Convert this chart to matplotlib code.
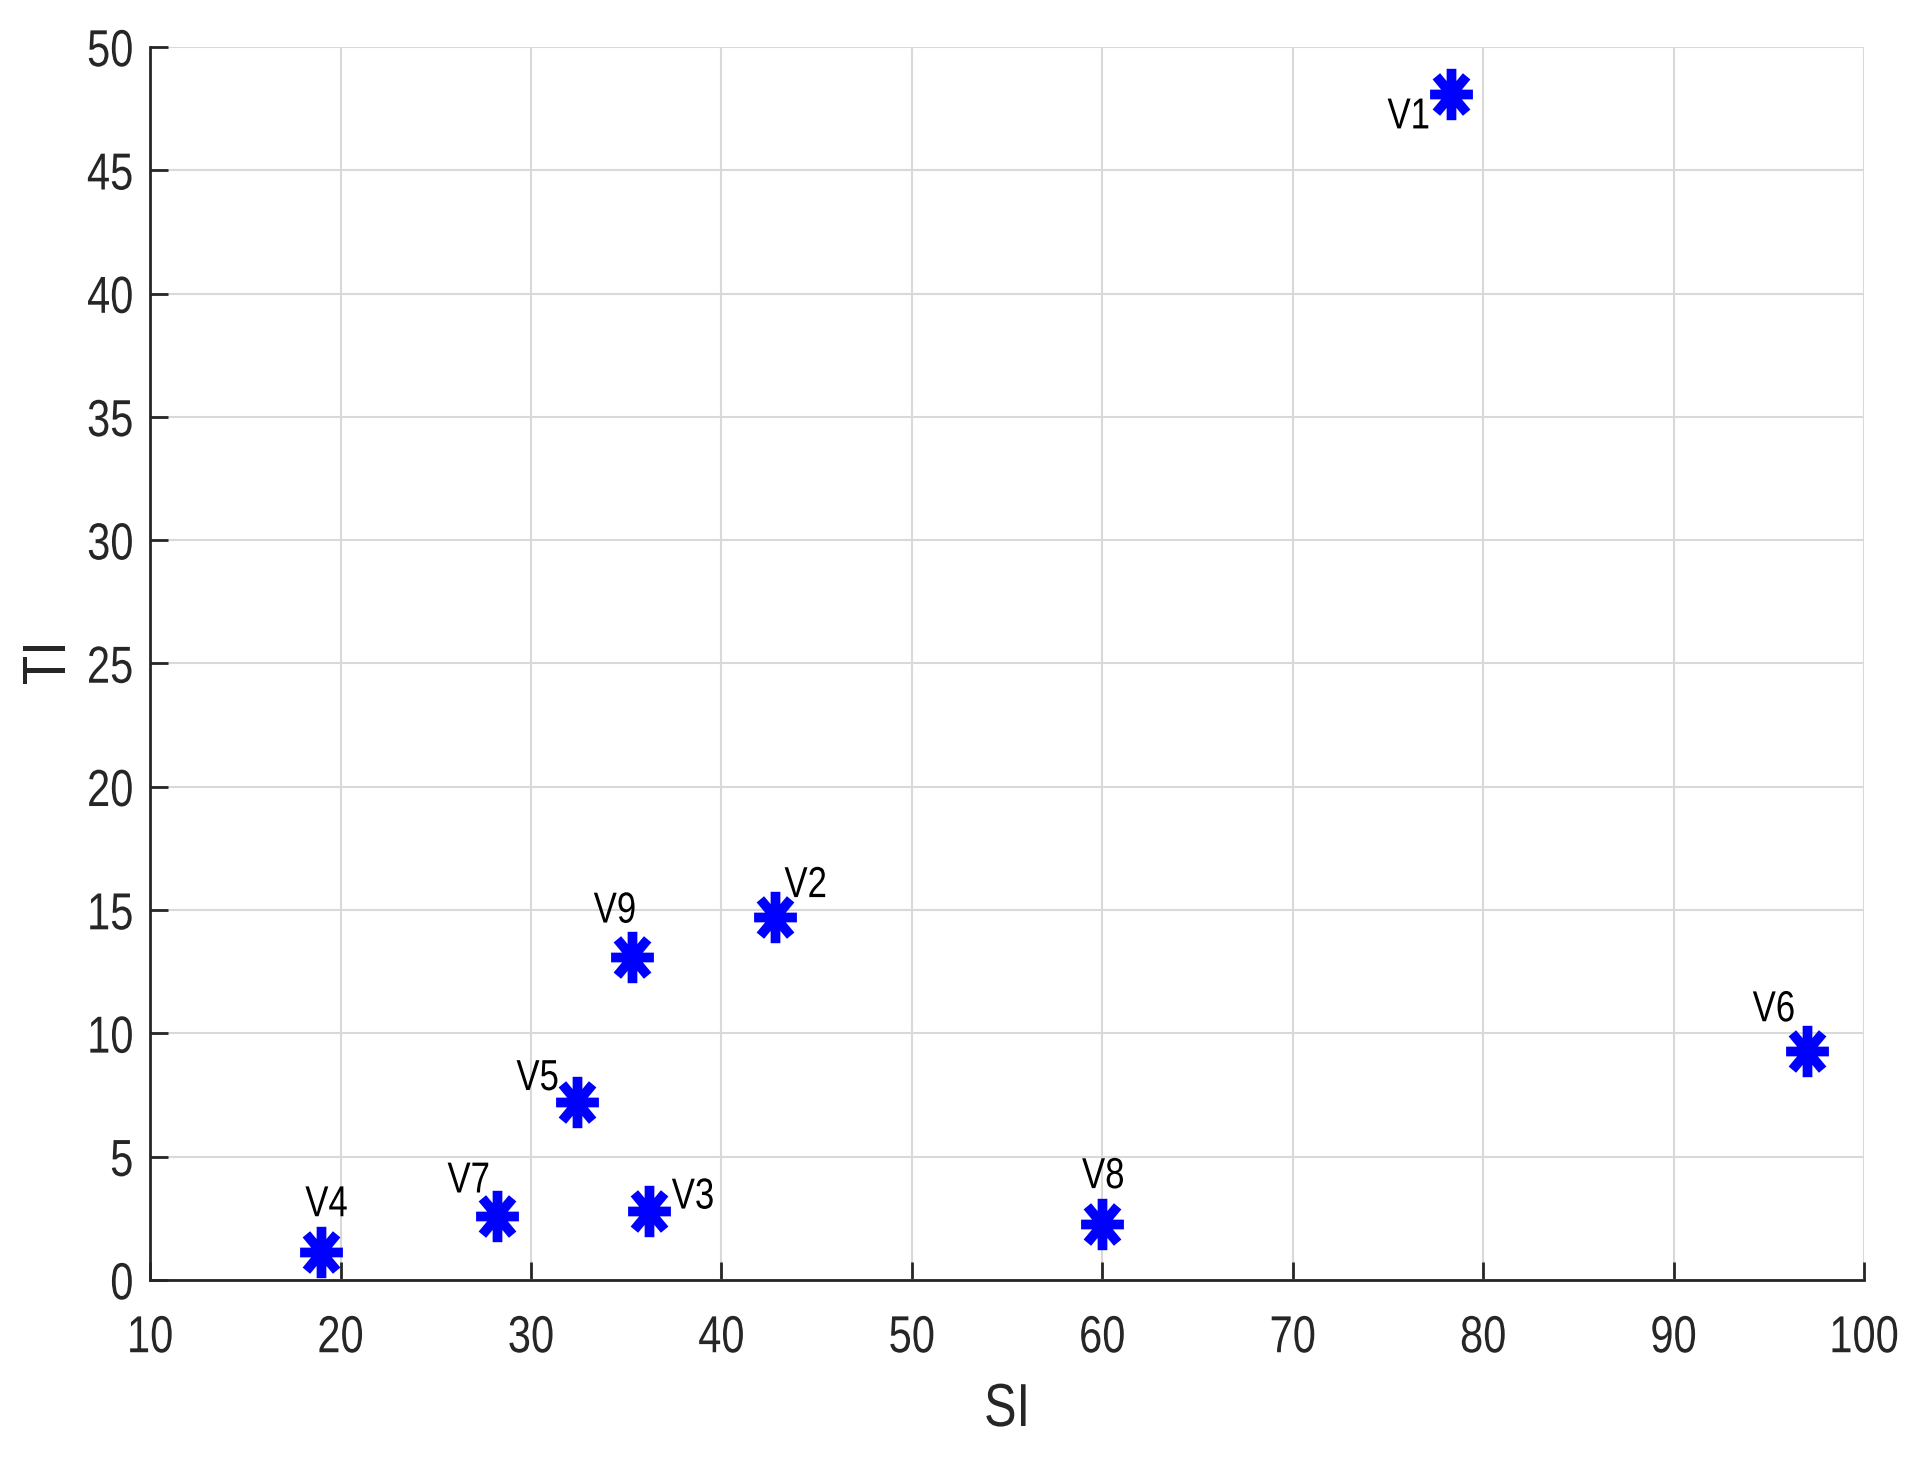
import numpy as np
import matplotlib
matplotlib.use("Agg")
import matplotlib.pyplot as plt
from matplotlib.path import Path
from matplotlib.transforms import Affine2D
from matplotlib.patheffects import AbstractPathEffect

# --------------------- DATA ---------------------

labels = ["V1", "V2", "V3", "V4", "V5", "V6", "V7", "V8", "V9"]
si = [78.3, 42.8, 36.2, 19.0, 32.4, 97.0, 28.2, 60.0, 35.3]
ti = [48.1, 14.7, 2.8, 1.15, 7.2, 9.3, 2.6, 2.25, 13.1]

# label offsets from marker, in pixels (x right, y up)
offsets = [(-42, -22), (31, 33), (44, 15), (5, 48), (-39, 25),
           (-33, 42), (-28, 36), (1, 49), (-17, 47)]

xticks = np.arange(10, 101, 10)
yticks = np.arange(0, 51, 5)


# --------------------- TOOLS ---------------------

class Stretch(AbstractPathEffect):
    # the original figure was resized unevenly, so glyphs look taller than wide

    def __init__(self, sy=1.25, cy=36):
        super().__init__()
        self.sy = sy
        self.cy = cy

    def draw_path(self, renderer, gc, tpath, affine, rgbFace=None):
        t = Affine2D().translate(0, -self.cy).scale(1, self.sy).translate(0, self.cy)
        renderer.draw_path(gc, tpath, t + affine, rgbFace)


def asterisk(sy=1.2):
    verts, codes = [], []
    for a in np.deg2rad([90, 45, 0, -45]):
        verts += [(np.cos(a), sy * np.sin(a)), (-np.cos(a), -sy * np.sin(a))]
        codes += [Path.MOVETO, Path.LINETO]
    return Path(verts, codes)


# --------------------- PLOT ---------------------

plt.rcParams["font.family"] = ["Liberation Sans", "DejaVu Sans"]
stretch = [Stretch()]

fig = plt.figure(figsize=(19.29, 14.58), dpi=100)
ax = fig.add_axes([0.0778, 0.1221, 0.9663 - 0.0778, 0.9678 - 0.1221])

ax.plot(si, ti, linestyle="none", marker=asterisk(), markersize=37,
        markeredgewidth=7, color="#0000ff", zorder=3)

for name, x, y, (dx, dy) in zip(labels, si, ti, offsets):
    ax.annotate(name, (x, y), xytext=(dx, dy), textcoords="offset pixels",
                ha="center", va="center", fontsize=25, color="black",
                path_effects=stretch)

ax.set_xlim(10, 100)
ax.set_ylim(0, 50)
ax.set_xticks(xticks)
ax.set_yticks(yticks)

ax.grid(True, color="#d9d9d9", linewidth=1.5)
ax.set_axisbelow(True)

for side in ["top", "right"]:
    ax.spines[side].set_visible(False)
for side in ["left", "bottom"]:
    ax.spines[side].set_color("#262626")
    ax.spines[side].set_linewidth(2)

ax.tick_params(axis="both", direction="in", length=13, width=2,
               colors="#262626", labelsize=30)
ax.tick_params(axis="x", pad=27)
ax.tick_params(axis="y", pad=12)
for lab in ax.get_xticklabels() + ax.get_yticklabels():
    lab.set_path_effects(stretch)

ax.set_xlabel("SI", fontsize=35, color="#262626", labelpad=21,
              path_effects=stretch)
ax.set_ylabel("TI", fontsize=35, color="#262626", labelpad=12,
              path_effects=stretch)

fig.savefig("out.png", dpi=100)
